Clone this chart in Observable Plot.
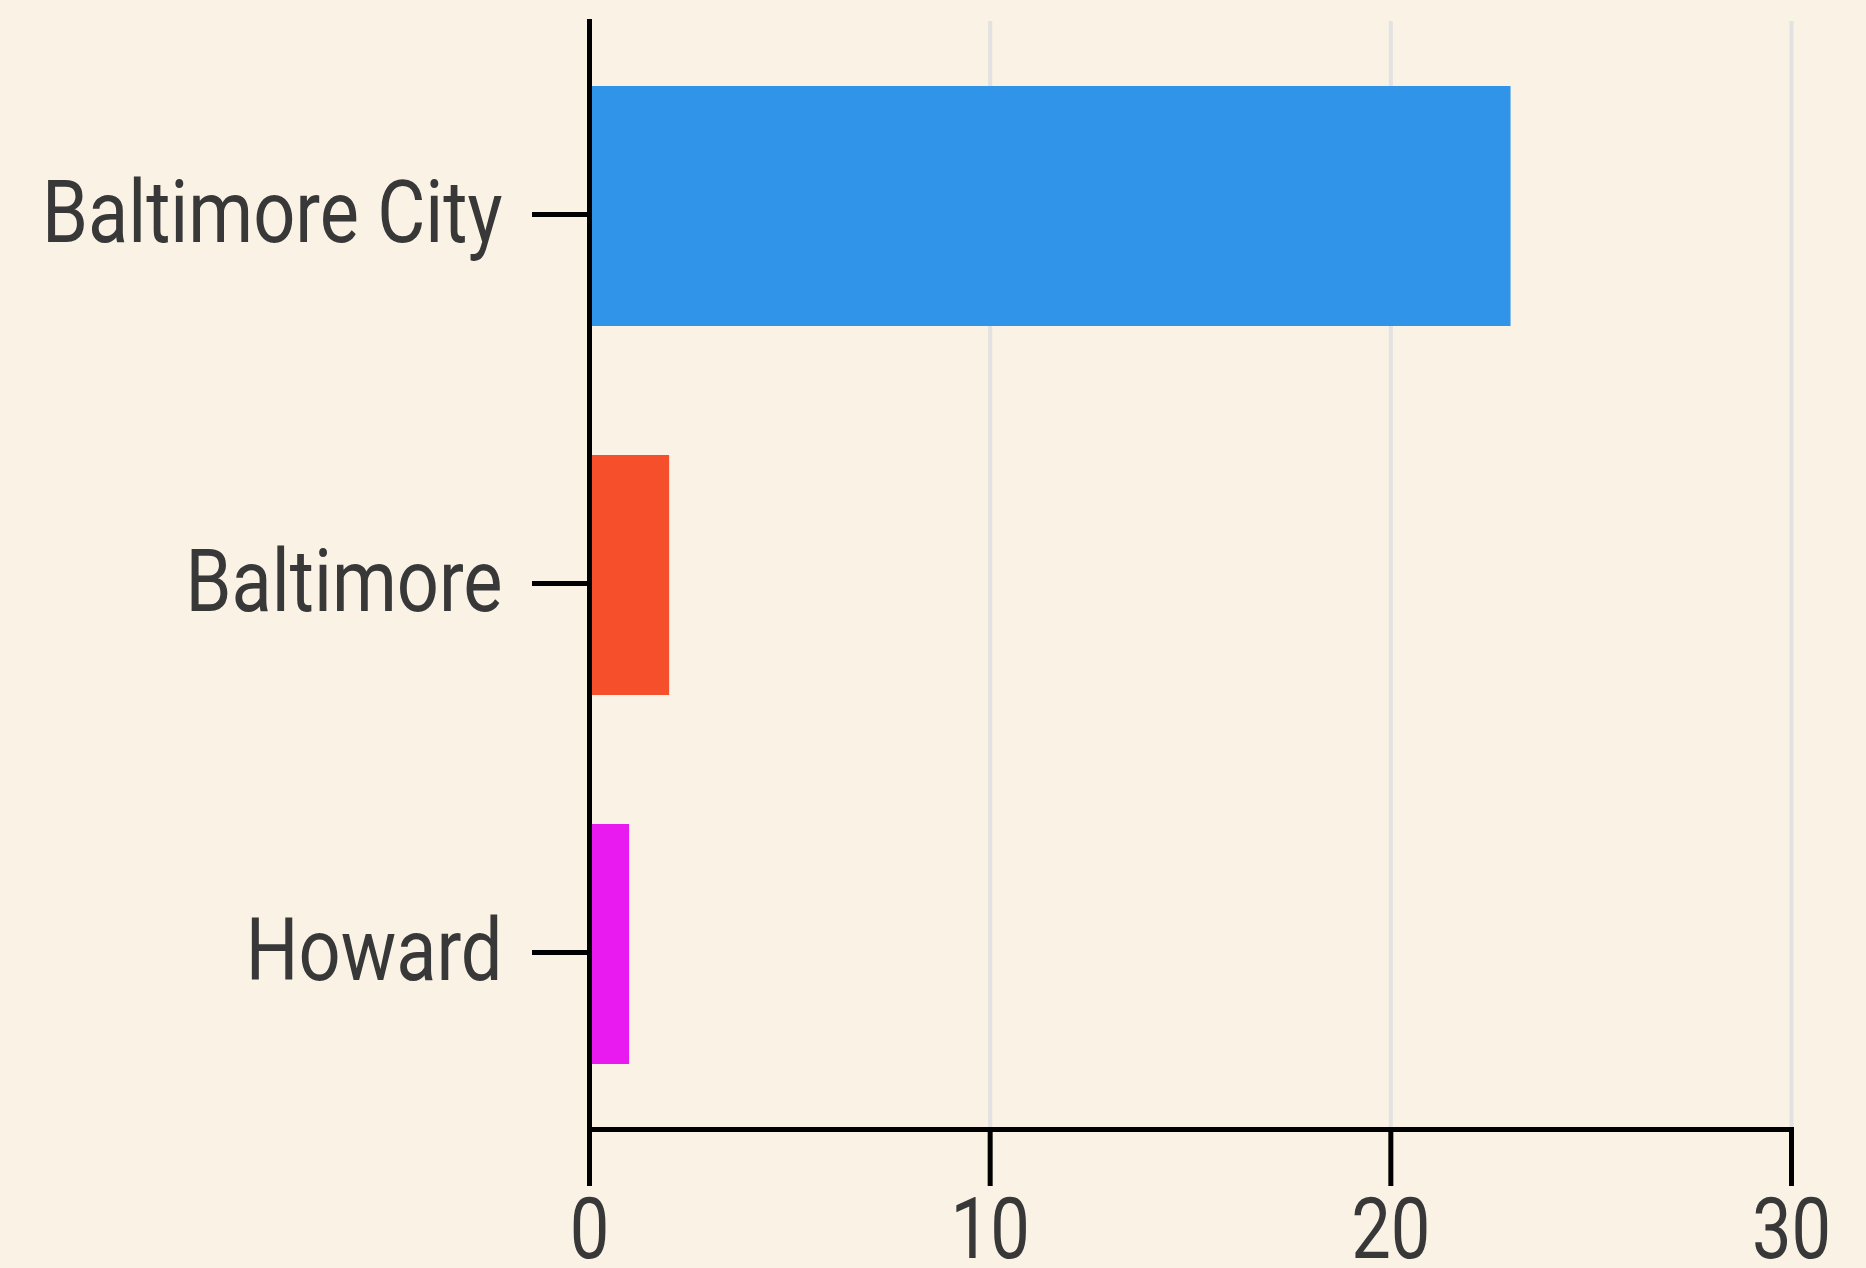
<!DOCTYPE html>
<html>
<head>
<meta charset="utf-8">
<script src="https://cdn.jsdelivr.net/npm/d3@7"></script>
<script src="https://cdn.jsdelivr.net/npm/@observablehq/plot@0.6"></script>
<style>
  html, body { margin: 0; padding: 0; background: #faf2e4; }
  #chart svg { display: block; }
</style>
</head>
<body>
<div id="chart"></div>
<script>
const counties = ["Baltimore City", "Baltimore", "Howard"];
const counts = [23, 2, 1];
const palette = ["#3094e8", "#f54f2c", "#e81af0"];
const xTicks = [0, 10, 20, 30];

const data = counties.map((c, i) => ({county: c, value: counts[i]}));

const chart = Plot.plot({
  width: 1866,
  height: 1268,
  marginTop: 21,
  marginBottom: 139,
  marginLeft: 589,
  marginRight: 75,
  style: {background: "#faf2e4", color: "#383838", fontFamily: "Roboto, 'DejaVu Sans', sans-serif"},
  x: {domain: [0, 30], axis: null},
  y: {domain: counties, paddingInner: 0.35, paddingOuter: 0.175, axis: null},
  color: {domain: counties, range: palette},
  marks: [
    Plot.gridX(xTicks.slice(1), {stroke: "#e2e2e2", strokeOpacity: 1, strokeWidth: 4}),
    Plot.barX(data, {x: "value", y: "county", fill: "county"}),
    Plot.frame({anchor: "bottom", stroke: "black", strokeWidth: 5}),
    Plot.frame({anchor: "left", stroke: "black", strokeWidth: 5}),
    Plot.axisX(xTicks, {tickSize: 57, tickPadding: 10, stroke: "black", strokeWidth: 5, fontSize: 86, label: null}),
    Plot.axisY({tickSize: 57, tickPadding: 30, dy: 8, stroke: "black", strokeWidth: 5, fontSize: 87, label: null})
  ]
});
document.getElementById("chart").appendChild(chart);

// condense the tick labels horizontally (reference uses a condensed face)
function condense(selector, sx) {
  chart.querySelectorAll(selector).forEach(t => {
    const tr = t.getAttribute("transform") || "";
    t.setAttribute("transform", tr + ` scale(${sx},1)`);
  });
}
condense('g[aria-label="y-axis tick label"] text', 0.85);
condense('g[aria-label="x-axis tick label"] text', 0.82);
</script>
</body>
</html>
